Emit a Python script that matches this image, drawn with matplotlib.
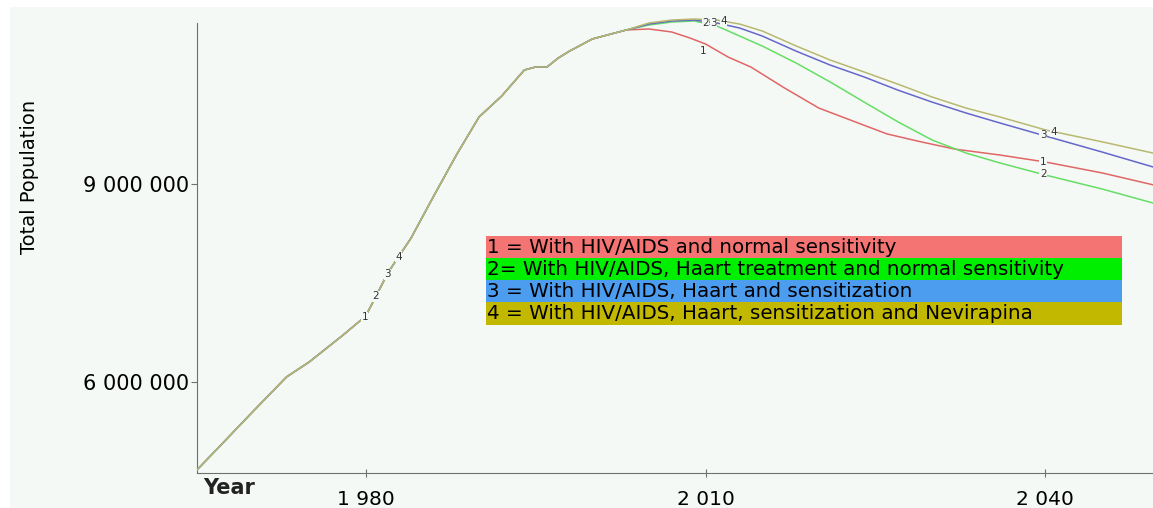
import numpy as np
import matplotlib
matplotlib.use('Agg')
import matplotlib.pyplot as plt
from matplotlib.patches import Rectangle

plt.rcParams['font.family'] = ['DejaVu Sans']

# common trajectory (all four scenarios are the same until ~2003)
years_common = [1965, 1967, 1970, 1973, 1975, 1978, 1980, 1982, 1984, 1986, 1988,
                1990, 1992, 1993, 1994, 1995, 1996, 1997, 1998, 2000, 2002, 2003]
pop_common = [4.655e6, 5.01e6, 5.547e6, 6.076e6, 6.302e6, 6.71e6, 6.998e6, 7.663e6,
              8.176e6, 8.811e6, 9.431e6, 10.005e6, 10.322e6, 10.519e6, 10.715e6,
              10.761e6, 10.761e6, 10.897e6, 11.002e6, 11.184e6, 11.275e6, 11.32e6]

# scenario branches after 2003
years_red = [2005, 2007, 2008.6, 2010, 2012, 2014, 2017, 2020, 2023, 2026, 2029,
             2032, 2036, 2040, 2045, 2049.5]
pop_red = [11.335e6, 11.29e6, 11.2e6, 11.108e6, 10.91e6, 10.76e6, 10.44e6, 10.14e6,
           9.945e6, 9.75e6, 9.63e6, 9.52e6, 9.43e6, 9.325e6, 9.16e6, 8.98e6]

years_up = [2005, 2007, 2009, 2011, 2013, 2015, 2018, 2021, 2024, 2027, 2030,
            2033, 2036, 2040, 2045, 2049.5]
pop_green = [11.395e6, 11.44e6, 11.456e6, 11.38e6, 11.229e6, 11.078e6, 10.82e6,
             10.534e6, 10.23e6, 9.93e6, 9.657e6, 9.46e6, 9.31e6, 9.128e6, 8.917e6, 8.705e6]
pop_blue = [11.41e6, 11.456e6, 11.47e6, 11.426e6, 11.35e6, 11.229e6, 11.0e6,
            10.79e6, 10.61e6, 10.41e6, 10.23e6, 10.065e6, 9.914e6, 9.718e6, 9.476e6, 9.25e6]
pop_yellow = [11.426e6, 11.47e6, 11.486e6, 11.47e6, 11.41e6, 11.305e6, 11.078e6,
              10.866e6, 10.685e6, 10.50e6, 10.307e6, 10.14e6, 10.005e6, 9.81e6, 9.63e6, 9.46e6]

legend_labels = ['1 = With HIV/AIDS and normal sensitivity',
                 '2= With HIV/AIDS, Haart treatment and normal sensitivity',
                 '3 = With HIV/AIDS, Haart and sensitization',
                 '4 = With HIV/AIDS, Haart, sensitization and Nevirapina']
line_colors = ['#e06666', '#66dd66', '#6666cc', '#b8b870']
box_colors = ['#f47474', '#00ee00', '#4c9cf0', '#c2b800']

bg = '#f5f9f5'

fig = plt.figure(figsize=(11.53, 5.08), dpi=100)
fig.patch.set_facecolor('white')
fig.patches.append(Rectangle((10 / 1153, 0), 1, (508 - 7) / 508,
                             transform=fig.transFigure, facecolor=bg,
                             edgecolor='none', zorder=-10))

ax = fig.add_axes([197 / 1153, (508 - 473) / 508, (1153 - 197) / 1153, (473 - 10) / 508])
ax.set_facecolor('none')
ax.set_xlim(1965.1, 2049.5)
ax.set_ylim(4.625e6, 11.622e6)

series = []
for yrs, vals in [(years_red, pop_red), (years_up, pop_green),
                  (years_up, pop_blue), (years_up, pop_yellow)]:
    series.append((np.array(years_common + yrs), np.array(pop_common + vals)))

for (x, y), c in zip(series, line_colors):
    ax.plot(x, y, color=c, lw=1.1, zorder=3)

# little numbers sitting on the curves
lab_style = dict(fontsize=7.5, color='#333333', ha='center', va='center', zorder=5,
                 bbox=dict(facecolor=bg, edgecolor='none', pad=0.3))
early = [1979.9, 1980.9, 1981.9, 1982.9]
for i, yr in enumerate(early):
    x, y = series[i]
    ax.text(yr, np.interp(yr, x, y), str(i + 1), **lab_style)
mid = [2009.8, 2010.0, 2010.7, 2011.6]
mid_off = [-0.12e6, 0.0, 0.0, 0.0]
for i, yr in enumerate(mid):
    x, y = series[i]
    ax.text(yr, np.interp(yr, x, y) + mid_off[i], str(i + 1), **lab_style)
late = [2039.8, 2039.8, 2039.8, 2040.7]
for i, yr in enumerate(late):
    x, y = series[i]
    ax.text(yr, np.interp(yr, x, y), str(i + 1), **lab_style)

# legend as coloured bands
x0, x1 = 1990.6, 2046.8
row_h = 0.335e6
top = 8.207e6
for i, (lab, c) in enumerate(zip(legend_labels, box_colors)):
    yb = top - (i + 1) * row_h
    ax.add_patch(Rectangle((x0, yb), x1 - x0, row_h, facecolor=c, edgecolor='none', zorder=4))
    ax.text(x0 + 0.1, yb + row_h / 2, lab, fontsize=14.3, color='black',
            ha='left', va='center', zorder=5)

# axes styling
for s in ['top', 'right']:
    ax.spines[s].set_visible(False)
ax.spines['left'].set_color('#707070')
ax.spines['bottom'].set_color('#707070')
ax.spines['left'].set_bounds(4.625e6, 11.43e6)

ax.set_xticks([1980, 2010, 2040])
ax.set_xticklabels(['1 980', '2 010', '2 040'], fontsize=14.5)
ax.set_yticks([6e6, 9e6])
ax.set_yticklabels(['6 000 000', '9 000 000'], fontsize=15)
ax.tick_params(axis='x', direction='inout', length=6, color='#707070', pad=9)
ax.tick_params(axis='y', direction='out', length=4, color='#707070', pad=2)

ax.text(0.006, -0.01, 'Year', transform=ax.transAxes, fontsize=15,
        fontweight='bold', ha='left', va='top', color='#222222')
fig.text(30 / 1153, 1 - 177 / 508, 'Total Population', rotation=90, fontsize=14,
         ha='center', va='center')

plt.savefig('out.png', dpi=100, facecolor=fig.get_facecolor())
